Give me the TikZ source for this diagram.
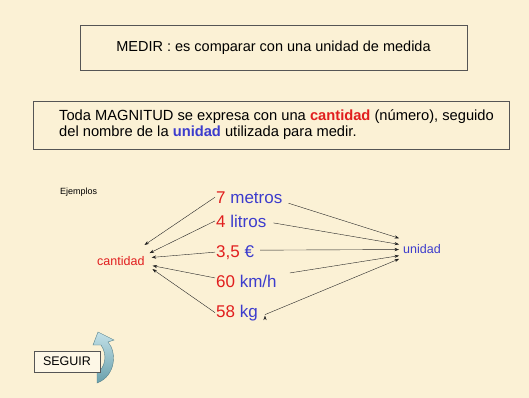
\documentclass[tikz,border=0pt]{standalone}
\usepackage{fontspec}
\setmainfont{Liberation Sans}
\usepackage{tikz}
\usetikzlibrary{arrows.meta}
\definecolor{parchment}{RGB}{251,241,213}
\definecolor{cantred}{RGB}{225,30,30}
\definecolor{unitblue}{RGB}{60,60,205}
\definecolor{boxline}{RGB}{85,85,85}
\definecolor{flechaA}{RGB}{195,225,232}
\definecolor{flechaB}{RGB}{105,160,172}

\begin{document}
\begin{tikzpicture}[
        x=1pt, y=-1pt,
        >={Stealth[length=4.5pt,width=3.2pt]},
        shorten >=1pt,
        txt/.style={anchor=base west, inner sep=0pt},
        valor/.style={txt, font=\fontsize{17}{20}\selectfont},
        frame/.style={draw=boxline, thin},
        link/.style={->, draw=black!85, thin}
        ]
        \fill[parchment] (0,0) rectangle (529,398);
        \useasboundingbox (0,0) rectangle (529,398);

        \node[frame, minimum width=387pt, minimum height=45pt, font=\fontsize{14.5}{17}\selectfont] (medir) at (273.5,47.5) {MEDIR : es comparar con una unidad de medida};

        \node[frame, minimum width=476pt, minimum height=48pt] (marco) at (271,125) {};
        \node[anchor=north west, align=left, inner sep=0pt, font=\fontsize{14.7}{16}\selectfont] (magnitud) at (59,109)
            {Toda MAGNITUD se expresa con una \textbf{\color{cantred}cantidad} (número), seguido\\
             del nombre de la \textbf{\color{unitblue}unidad} utilizada para medir.};

        \node[txt, font=\fontsize{9}{11}\selectfont] (ejemplos) at (60,194) {Ejemplos};

        \node[valor] (m7) at (216,203) {\textcolor{cantred}{7} \textcolor{unitblue}{metros}};
        \node[valor] (l4) at (216,227) {\textcolor{cantred}{4} \textcolor{unitblue}{litros}};
        \node[valor] (e35) at (216,257) {\textcolor{cantred}{3,5} \textcolor{unitblue}{€}};
        \node[valor] (k60) at (216,287) {\textcolor{cantred}{60} \textcolor{unitblue}{km/h}};
        \node[valor] (k58) at (216,317) {\textcolor{cantred}{58} \textcolor{unitblue}{kg}};

        \node[txt, font=\fontsize{12.5}{15}\selectfont, text=cantred] (cant) at (97,265) {cantidad};
        \node[txt, font=\fontsize{12.5}{15}\selectfont, text=unitblue] (unid) at (403,253) {unidad};

        \path[link]
              ([xshift=-1pt]m7.west) edge ([xshift=-1pt,yshift=15pt]cant.east)
              ([xshift=-1pt]l4.west) edge ([xshift=4pt,yshift=7pt]cant.east)
              ([xshift=-1pt]e35.west) edge ([xshift=6pt,yshift=3pt]cant.east)
              ([xshift=-1pt,yshift=3pt]k60.west) edge ([xshift=7pt,yshift=-5pt]cant.east)
              ([xshift=-1pt]k58.west) edge ([xshift=7pt,yshift=-8pt]cant.east)

              ([xshift=6pt,yshift=-6pt]m7.east) edge ([xshift=-3pt,yshift=10pt]unid.west)
              ([xshift=7pt,yshift=-2pt]l4.east) edge ([xshift=-3pt,yshift=4pt]unid.west)
              ([xshift=6pt,yshift=2pt]e35.east) edge ([xshift=-3pt,yshift=-1pt]unid.west)
              ([xshift=13pt,yshift=8pt]k60.east) edge ([xshift=-3pt,yshift=-7pt]unid.west)
              ([xshift=7pt,yshift=-2pt]k58.east) edge ([xshift=-3pt,yshift=-10pt]unid.west);

        % curved arrow behind the button
        \path[top color=flechaA, bottom color=flechaB, draw=flechaB!80!black, thin]
            (97,373) .. controls (105,368) and (108,355) .. (101,345)
            -- (93,345) -- (98,332) -- (114,340) -- (108,342)
            .. controls (117,352) and (116,376) .. (97,383) -- cycle;
        \node[frame, fill=parchment!60!white, minimum width=66pt, minimum height=21pt, font=\fontsize{12.5}{15}\selectfont] (seguir) at (67,361.5) {SEGUIR};
\end{tikzpicture}
\end{document}
